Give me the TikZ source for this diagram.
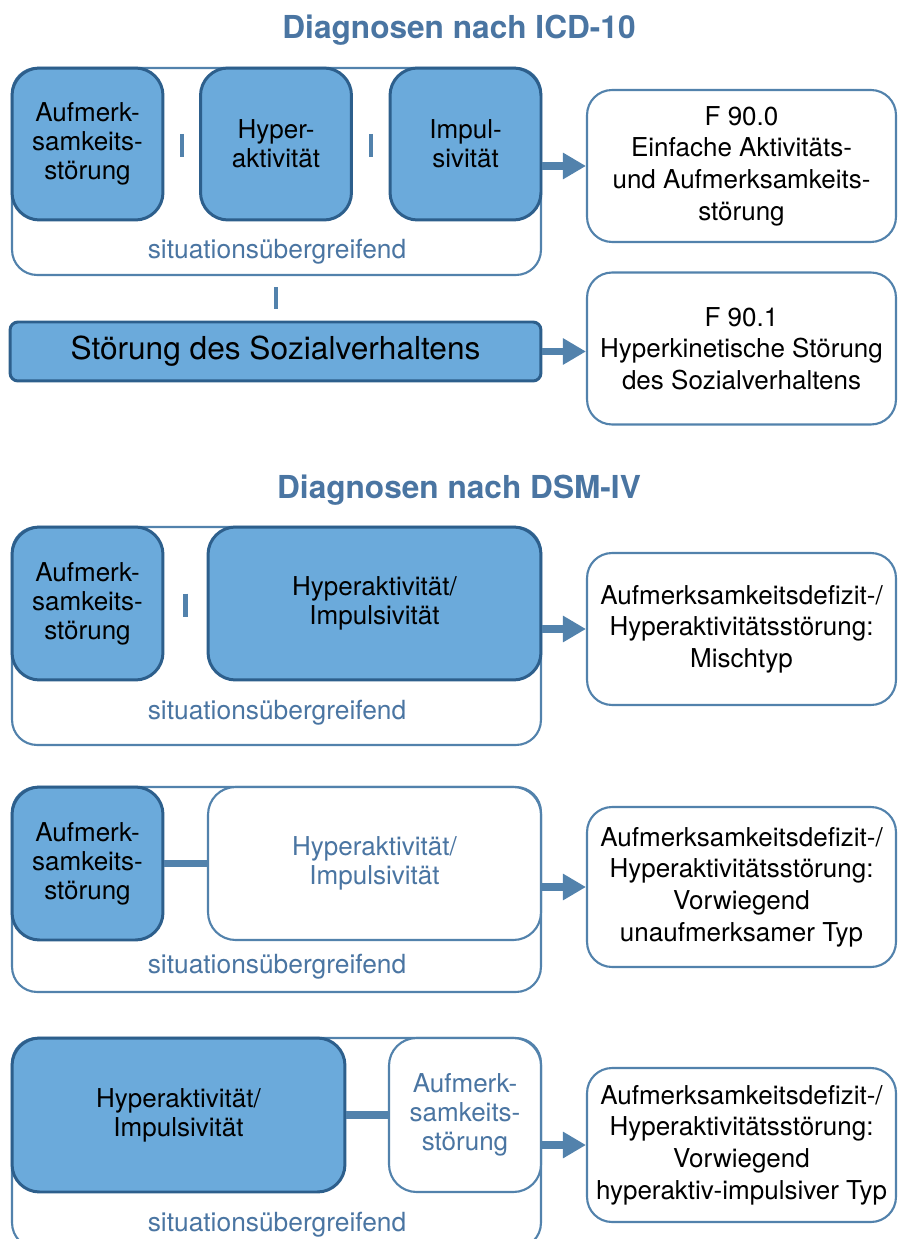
\documentclass[tikz,border=0pt]{standalone}
\usepackage{fontspec}
\setmainfont{TeX Gyre Heros}
\usetikzlibrary{arrows.meta,calc}

\definecolor{boxfill}{RGB}{107,170,219}
\definecolor{boxline}{RGB}{45,95,140}
\definecolor{frameline}{RGB}{82,130,172}
\definecolor{bluetext}{RGB}{74,117,162}

\begin{document}
\begin{tikzpicture}[x=0.02cm, y=-0.02cm,
    every node/.style={align=center, inner sep=0pt, font=\fontsize{14.8}{16.5}\selectfont},
    frame/.style={draw=frameline, line width=1.2pt, rounded corners=0.5cm, fill=white},
    item/.style={draw=boxline, line width=1.7pt, rounded corners=0.55cm, fill=boxfill},
    blank/.style={draw=frameline, line width=1.2pt, rounded corners=0.55cm, fill=white, text=bluetext},
    result/.style={draw=frameline, line width=1.2pt, rounded corners=0.5cm, fill=white,
        minimum width=6.18cm, font=\fontsize{14.8}{18}\selectfont},
    note/.style={text=bluetext, font=\fontsize{15}{17}\selectfont},
    heading/.style={text=bluetext, font=\fontsize{18}{20}\selectfont\bfseries},
    sepbar/.style={draw=frameline, line width=2.4pt},
    linkbar/.style={draw=frameline, line width=4pt},
    leads/.style={draw=frameline, line width=4pt, -{Triangle[length=0.46cm,width=0.5cm]}}
]
    \useasboundingbox (0,0) rectangle (897,1239);

    % ICD-10
    \node[heading] (t1) at (459,30) {Diagnosen nach ICD-10};

    \node[frame, minimum width=10.58cm, minimum height=4.14cm] (o1) at (276.5,171.5) {};
    \node[item, minimum width=3.02cm, minimum height=3.04cm] (a1) at (87.5,144) {Aufmerk-\\samkeits-\\störung};
    \node[item, minimum width=3.02cm, minimum height=3.04cm] (h1) at (276,144) {Hyper-\\aktivität};
    \node[item, minimum width=3.02cm, minimum height=3.04cm] (i1) at (465.5,144) {Impul-\\sivität};
    \node[note] (s1) at (277,252) {situationsübergreifend};
    \node[result, minimum height=3.04cm] (r1) at (741.5,166) {F 90.0\\Einfache Aktivitäts-\\und Aufmerksamkeits-\\störung};

    \node[item, rounded corners=0.16cm, minimum width=10.62cm, minimum height=1.18cm,
        font=\fontsize{18}{20}\selectfont] (z1) at (275.5,351.5) {Störung des Sozialverhaltens};
    \node[result, minimum height=3.04cm] (r2) at (741.5,348.5) {F 90.1\\Hyperkinetische Störung\\des Sozialverhaltens};

    \draw[sepbar] ($(a1.east)!0.5!(h1.west)$) ++(0,-10) -- ++(0,23);
    \draw[sepbar] ($(h1.east)!0.5!(i1.west)$) ++(0,-10) -- ++(0,23);
    \draw[sepbar] ($(o1.south)!0.5!(z1.north)$) ++(0,-11) -- ++(0,22);

    \draw[leads] (o1.east |- r1.west) -- (r1.west);
    \draw[leads] (z1.east) -- (z1.east -| r2.west);

    % DSM-IV, Mischtyp
    \node[heading] (t2) at (459,490) {Diagnosen nach DSM-IV};

    \node[frame, minimum width=10.58cm, minimum height=4.36cm] (o2) at (276.5,636) {};
    \node[item, minimum width=3.02cm, minimum height=3.06cm] (a2) at (87.5,603.5) {Aufmerk-\\samkeits-\\störung};
    \node[item, minimum width=6.66cm, minimum height=3.06cm] (h2) at (374.5,603.5) {Hyperaktivität/\\Impulsivität};
    \node[note] (s2) at (277,713) {situationsübergreifend};
    \node[result, minimum height=3.04cm] (r3) at (741.5,629) {Aufmerksamkeitsdefizit-/\\Hyperaktivitätsstörung:\\Mischtyp};

    \draw[sepbar] ($(a2.east)!0.5!(h2.west)$) ++(0,-10) -- ++(0,23);
    \draw[leads] (o2.east |- r3.west) -- (r3.west);

    % unaufmerksamer Typ
    \node[frame, minimum width=10.58cm, minimum height=4.1cm] (o3) at (276.5,889.5) {};
    \node[item, minimum width=3.02cm, minimum height=3.06cm] (a3) at (87.5,863.5) {Aufmerk-\\samkeits-\\störung};
    \node[blank, minimum width=6.66cm, minimum height=3.06cm] (h3) at (374.5,863.5) {Hyperaktivität/\\Impulsivität};
    \node[note] (s3) at (277,967) {situationsübergreifend};
    \node[result, minimum height=3.2cm] (r4) at (741.5,887) {Aufmerksamkeitsdefizit-/\\Hyperaktivitätsstörung:\\Vorwiegend\\unaufmerksamer Typ};

    \draw[linkbar] (a3.east) -- (h3.west);
    \draw[leads] (o3.east |- r4.west) -- (r4.west);

    % hyperaktiv-impulsiver Typ
    \node[frame, minimum width=10.58cm, minimum height=4.2cm] (o4) at (276.5,1143) {};
    \node[item, minimum width=6.66cm, minimum height=3.08cm] (h4) at (178.5,1115) {Hyperaktivität/\\Impulsivität};
    \node[blank, minimum width=3.04cm, minimum height=3.08cm] (a4) at (465,1115) {Aufmerk-\\samkeits-\\störung};
    \node[note] (s4) at (277,1225) {situationsübergreifend};
    \node[result, minimum height=3.08cm] (r5) at (741.5,1145) {Aufmerksamkeitsdefizit-/\\Hyperaktivitätsstörung:\\Vorwiegend\\hyperaktiv-impulsiver Typ};

    \draw[linkbar] (h4.east) -- (a4.west);
    \draw[leads] (o4.east |- r5.west) -- (r5.west);
\end{tikzpicture}
\end{document}
